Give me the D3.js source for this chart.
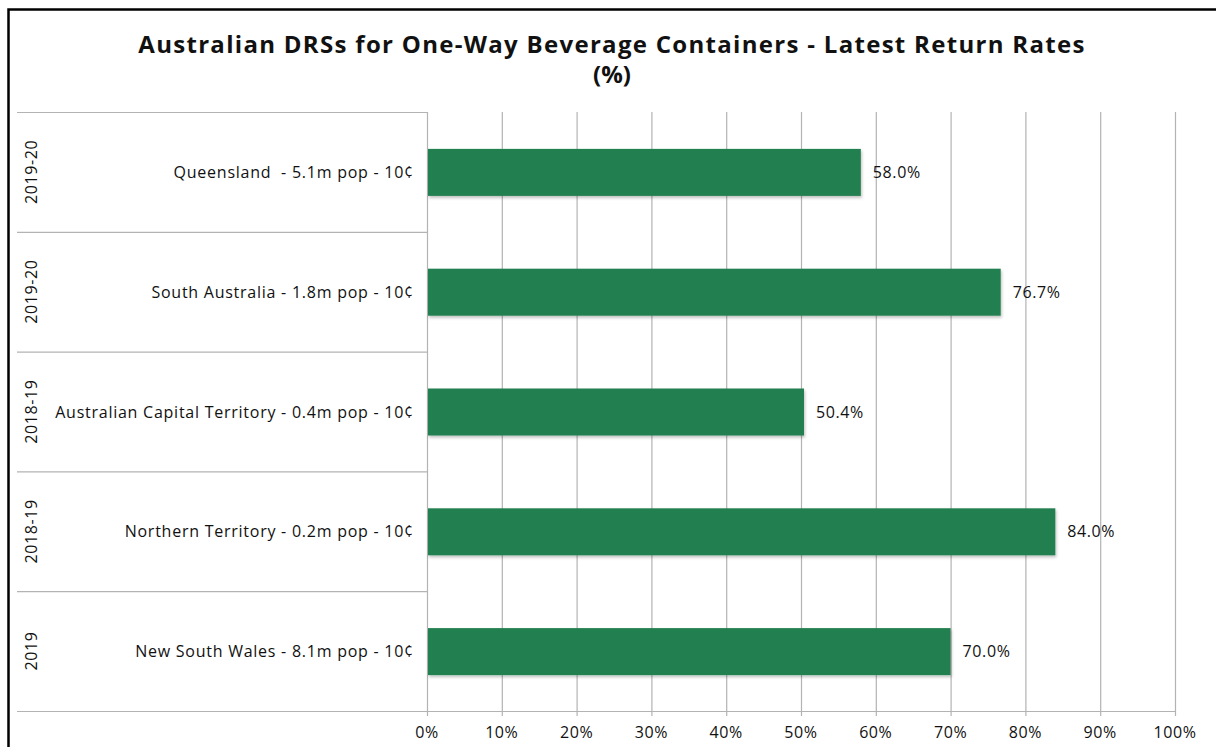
<!DOCTYPE html>
<html>
<head>
<meta charset="utf-8">
<script src="https://cdn.jsdelivr.net/npm/d3@7"></script>
<style>
  body { margin: 0; background: #fff; }
  text { font-family: "Open Sans", "Lato", sans-serif; fill: #111; }
</style>
</head>
<body>
<svg id="chart" width="1216" height="747"></svg>
<script>
// data
var states = ["Queensland  - 5.1m pop - 10¢", "South Australia - 1.8m pop - 10¢",
	"Australian Capital Territory - 0.4m pop - 10¢", "Northern Territory - 0.2m pop - 10¢",
	"New South Wales - 8.1m pop - 10¢"];
var years = ["2019-20", "2019-20", "2018-19", "2018-19", "2019"];
var returnRates = [58.0, 76.7, 50.4, 84.0, 70.0];
var xTicks = [0, 10, 20, 30, 40, 50, 60, 70, 80, 90, 100];

var svg = d3.select("#chart");

// outer frame (runs off the right and bottom edge)
svg.append("rect")
	.attr("x", 8.5).attr("y", 9.5)
	.attr("width", 1230).attr("height", 760)
	.attr("fill", "none").attr("stroke", "#000").attr("stroke-width", 2.5);

var plotLeft = 427, plotRight = 1175, plotTop = 112, plotBottom = 711;

var x = d3.scaleLinear().domain([0, 100]).range([plotLeft, plotRight]);
var y = d3.scaleBand().domain(d3.range(states.length)).range([plotTop, plotBottom]);

//title
svg.append("text")
	.attr("x", 612).attr("y", 53)
	.attr("text-anchor", "middle")
	.style("font-size", "24px").style("font-weight", "bold").style("letter-spacing", "1.3px")
	.text("Australian DRSs for One-Way Beverage Containers - Latest Return Rates");
svg.append("text")
	.attr("x", 612).attr("y", 83)
	.attr("text-anchor", "middle")
	.style("font-size", "24px").style("font-weight", "bold")
	.text("(%)");

// vertical gridlines + bottom ticks
svg.append("g")
	.selectAll("line")
	.data(xTicks)
	.enter().append("line")
	.attr("x1", function (d) { return x(d) + 0.5; })
	.attr("x2", function (d) { return x(d) + 0.5; })
	.attr("y1", plotTop)
	.attr("y2", plotBottom + 5)
	.attr("stroke", "#b3b3b3").attr("stroke-width", 1.2);

// horizontal separators across the label area
var bounds = d3.range(states.length + 1).map(function (i) {
	return i < states.length ? y(i) : plotBottom;
});
svg.append("g")
	.selectAll("line")
	.data(bounds)
	.enter().append("line")
	.attr("x1", 17)
	.attr("x2", function (d, i) { return i == states.length ? plotRight : plotLeft; })
	.attr("y1", function (d) { return d + 0.5; })
	.attr("y2", function (d) { return d + 0.5; })
	.attr("stroke", "#b3b3b3").attr("stroke-width", 1.2);

// x axis labels
svg.append("g")
	.selectAll("text")
	.data(xTicks)
	.enter().append("text")
	.attr("x", function (d) { return x(d); })
	.attr("y", 738)
	.attr("text-anchor", "middle")
	.style("font-size", "16px").style("letter-spacing", "0.6px")
	.text(function (d) { return d + "%"; });

// drop shadow for bars
var defs = svg.append("defs");
var f = defs.append("filter").attr("id", "shadow").attr("x", "-5%").attr("y", "-10%").attr("width", "110%").attr("height", "130%");
f.append("feDropShadow").attr("dx", 1).attr("dy", 2).attr("stdDeviation", 1.5).attr("flood-color", "#000").attr("flood-opacity", 0.25);

var barH = 47;
svg.append("g")
	.selectAll("rect")
	.data(returnRates)
	.enter().append("rect")
	.attr("x", x(0) + 1)
	.attr("y", function (d, i) { return y(i) + y.bandwidth() / 2 - barH / 2 + 0.5; })
	.attr("width", function (d) { return x(d) - x(0) - 1; })
	.attr("height", barH)
	.attr("fill", "#237f4f")
	.attr("filter", "url(#shadow)");

// value labels
svg.append("g")
	.selectAll("text")
	.data(returnRates)
	.enter().append("text")
	.attr("x", function (d) { return x(d) + 12; })
	.attr("y", function (d, i) { return y(i) + y.bandwidth() / 2 + 6; })
	.style("font-size", "16px").style("letter-spacing", "0.6px")
	.text(function (d) { return d.toFixed(1) + "%"; });

// category labels
svg.append("g")
	.selectAll("text")
	.data(states)
	.enter().append("text")
	.attr("x", 414)
	.attr("y", function (d, i) { return y(i) + y.bandwidth() / 2 + 6; })
	.attr("text-anchor", "end")
	.style("font-size", "16px").style("letter-spacing", "0.75px")
	.style("white-space", "pre")
	.text(function (d) { return d; });

// year labels, rotated
svg.append("g")
	.selectAll("text")
	.data(years)
	.enter().append("text")
	.attr("transform", function (d, i) {
		return "translate(37," + (y(i) + y.bandwidth() / 2) + ") rotate(-90)";
	})
	.attr("text-anchor", "middle")
	.style("font-size", "16px").style("letter-spacing", "0.6px")
	.text(function (d) { return d; });
</script>
</body>
</html>
